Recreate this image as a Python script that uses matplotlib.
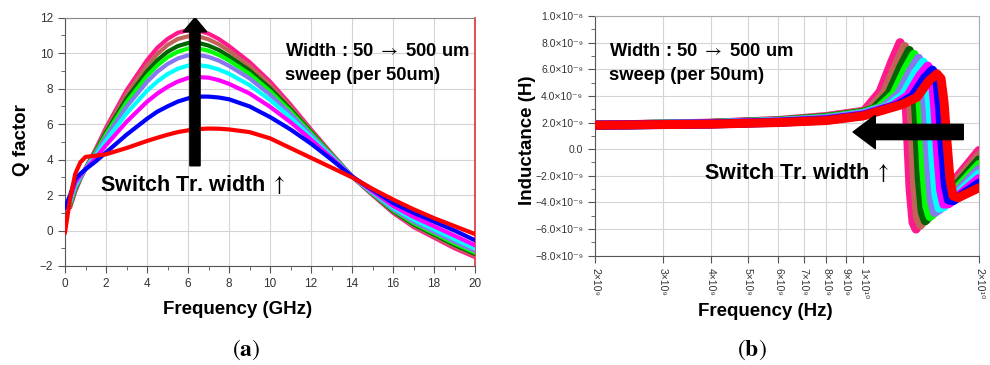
import numpy as np
import matplotlib.pyplot as plt
from matplotlib.patches import FancyArrow

plt.rcParams['font.family'] = ['Liberation Sans', 'DejaVu Sans']
plt.rcParams['mathtext.fontset'] = 'stix'

# colours, widest transistor first, 50um (red) drawn last
colors = ['#ff1a8c', '#c0645a', '#006400', '#00ff00', '#8878f0',
          '#00ffff', '#ff00ff', '#0000ff', '#ff0000']

# ---- (a) Q factor vs frequency (GHz) ----
freq_q = [0, 0.25, 0.5, 0.75, 1, 1.5, 2, 3, 4, 4.5, 5, 5.5, 6, 6.5, 7, 7.5, 8, 9, 10,
          11, 12, 13, 14, 15, 16, 17, 18, 19, 20]
q_pink = [1.4, 1.3, 2.2, 2.9, 3.5, 4.6, 5.8, 7.9, 9.6, 10.3, 10.8, 11.15, 11.3, 11.28, 11.1, 10.8, 10.4,
          9.5, 8.4, 7.1, 5.7, 4.35, 3.05, 2.0, 1.0, 0.2, -0.4, -1.0, -1.5]
q_brown = [1.39, 1.36, 2.26, 2.93, 3.5, 4.54, 5.67, 7.68, 9.3, 9.95, 10.46, 10.8, 10.95, 10.95, 10.78, 10.5, 10.13,
           9.28, 8.22, 6.97, 5.63, 4.32, 3.05, 2.03, 1.05, 0.27, -0.32, -0.91, -1.41]
q_dgreen = [1.38, 1.43, 2.33, 2.96, 3.49, 4.47, 5.53, 7.43, 8.97, 9.6, 10.08, 10.4, 10.57, 10.58, 10.43, 10.18, 9.83,
            9.03, 8.02, 6.83, 5.55, 4.28, 3.05, 2.06, 1.1, 0.35, -0.23, -0.81, -1.32]
q_lime = [1.37, 1.49, 2.39, 2.98, 3.49, 4.41, 5.42, 7.23, 8.71, 9.3, 9.77, 10.08, 10.26, 10.27, 10.14, 9.9, 9.59,
          8.83, 7.86, 6.72, 5.48, 4.26, 3.05, 2.08, 1.15, 0.42, -0.16, -0.73, -1.24]
q_purple = [1.36, 1.56, 2.46, 3.01, 3.48, 4.34, 5.28, 6.98, 8.38, 8.95, 9.39, 9.7, 9.88, 9.9, 9.79, 9.58, 9.29,
            8.58, 7.66, 6.58, 5.4, 4.22, 3.05, 2.11, 1.2, 0.5, -0.07, -0.63, -1.15]
q_cyan = [1.35, 1.66, 2.56, 3.06, 3.47, 4.24, 5.07, 6.6, 7.88, 8.4, 8.82, 9.12, 9.3, 9.33, 9.25, 9.08, 8.84,
          8.2, 7.36, 6.37, 5.28, 4.17, 3.05, 2.16, 1.29, 0.62, 0.07, -0.48, -1.01]
q_magenta = [1.33, 1.8, 2.7, 3.11, 3.46, 4.1, 4.81, 6.13, 7.26, 7.72, 8.1, 8.4, 8.6, 8.65, 8.62, 8.48, 8.27,
             7.73, 6.98, 6.11, 5.13, 4.1, 3.05, 2.21, 1.39, 0.77, 0.24, -0.29, -0.83]
q_blue = [1.3, 2.0, 2.9, 3.2, 3.45, 3.9, 4.4, 5.4, 6.3, 6.7, 7.0, 7.27, 7.45, 7.55, 7.55, 7.5, 7.4,
          7.0, 6.4, 5.7, 4.9, 4.0, 3.05, 2.3, 1.55, 1.0, 0.5, 0.0, -0.55]
q_red = [-0.1, 1.8, 3.2, 3.85, 4.15, 4.22, 4.3, 4.65, 5.05, 5.23, 5.4, 5.55, 5.65, 5.72, 5.75, 5.74, 5.7,
         5.55, 5.2, 4.65, 4.1, 3.55, 3.0, 2.35, 1.75, 1.2, 0.7, 0.25, -0.2]
q_curves = [q_pink, q_brown, q_dgreen, q_lime, q_purple, q_cyan, q_magenta, q_blue, q_red]

# ---- (b) inductance (nH) vs frequency (GHz), one frequency list per curve ----
f_pink = [2, 4, 6, 8, 10, 10.10, 11.05, 11.87, 12.46, 12.76, 12.99, 13.23, 13.47, 13.71, 14.13, 20]
f_brown = [2, 4, 6, 8, 10, 10.38, 11.36, 12.21, 12.81, 13.12, 13.35, 13.60, 13.84, 14.09, 14.52, 20]
f_dgreen = [2, 4, 6, 8, 10, 10.67, 11.68, 12.55, 13.17, 13.48, 13.73, 13.98, 14.23, 14.49, 14.93, 20]
f_lime = [2, 4, 6, 8, 10, 10.97, 12.01, 12.90, 13.54, 13.86, 14.12, 14.37, 14.63, 14.90, 15.35, 20]
f_purple = [2, 4, 6, 8, 10, 11.28, 12.34, 13.27, 13.92, 14.25, 14.51, 14.78, 15.04, 15.32, 15.78, 20]
f_cyan = [2, 4, 6, 8, 10, 11.60, 12.69, 13.64, 14.31, 14.65, 14.92, 15.19, 15.47, 15.75, 16.23, 20]
f_magenta = [2, 4, 6, 8, 10, 11.92, 13.05, 14.02, 14.71, 15.07, 15.34, 15.62, 15.90, 16.19, 16.69, 20]
f_blue = [2, 4, 6, 8, 10, 12.26, 13.41, 14.42, 15.12, 15.49, 15.77, 16.06, 16.35, 16.65, 17.15, 20]
f_red = [2, 4, 6, 8, 10, 12.61, 13.79, 14.82, 15.55, 15.93, 16.22, 16.51, 16.81, 17.11, 17.64, 20]

l_pink = [1.8, 1.95, 2.15, 2.45, 2.85, 2.95, 4.3, 6.6, 8.0, 6.8, 2.0, -3.0, -5.5, -6.0, -5.4, -0.1]
l_brown = [1.8, 1.94, 2.13, 2.41, 2.81, 3.0, 4.25, 6.42, 7.71, 6.61, 2.19, -2.56, -5.1, -5.69, -5.18, -0.45]
l_dgreen = [1.8, 1.93, 2.11, 2.38, 2.76, 3.05, 4.2, 6.24, 7.41, 6.43, 2.38, -2.13, -4.7, -5.38, -4.96, -0.8]
l_lime = [1.8, 1.92, 2.09, 2.34, 2.72, 3.1, 4.15, 6.06, 7.12, 6.24, 2.56, -1.69, -4.3, -5.06, -4.74, -1.15]
l_purple = [1.8, 1.92, 2.08, 2.3, 2.68, 3.15, 4.1, 5.88, 6.83, 6.05, 2.75, -1.25, -3.9, -4.75, -4.53, -1.5]
l_cyan = [1.8, 1.91, 2.06, 2.26, 2.63, 3.2, 4.05, 5.69, 6.53, 5.86, 2.94, -0.81, -3.5, -4.44, -4.31, -1.85]
l_magenta = [1.8, 1.9, 2.04, 2.23, 2.59, 3.25, 4.0, 5.51, 6.24, 5.68, 3.13, -0.38, -3.1, -4.13, -4.09, -2.2]
l_blue = [1.8, 1.89, 2.02, 2.19, 2.54, 3.3, 3.95, 5.33, 5.94, 5.49, 3.31, 0.06, -2.7, -3.81, -3.87, -2.55]
l_red = [1.8, 1.88, 2.0, 2.15, 2.5, 3.35, 3.9, 5.15, 5.65, 5.3, 3.5, 0.5, -2.3, -3.5, -3.65, -2.9]
f_curves = [f_pink, f_brown, f_dgreen, f_lime, f_purple, f_cyan, f_magenta, f_blue, f_red]
l_curves = [l_pink, l_brown, l_dgreen, l_lime, l_purple, l_cyan, l_magenta, l_blue, l_red]

xticks_b = [2e9, 3e9, 4e9, 5e9, 6e9, 7e9, 8e9, 9e9, 1e10, 2e10]
xlabels_b = ['2×10⁹', '3×10⁹', '4×10⁹', '5×10⁹', '6×10⁹', '7×10⁹', '8×10⁹', '9×10⁹',
             '1×10¹⁰', '2×10¹⁰']
yticks_b = [1e-8, 8e-9, 6e-9, 4e-9, 2e-9, 0, -2e-9, -4e-9, -6e-9, -8e-9]
ylabels_b = ['1.0×10⁻⁸', '8.0×10⁻⁹', '6.0×10⁻⁹', '4.0×10⁻⁹', '2.0×10⁻⁹', '0.0',
             '−2.0×10⁻⁹', '−4.0×10⁻⁹', '−6.0×10⁻⁹', '−8.0×10⁻⁹']

fig = plt.figure(figsize=(9.9, 3.65), dpi=100)
W, H = 990, 365
ax1 = fig.add_axes([65 / W, 1 - 266 / H, 410 / W, 248.3 / H])
ax2 = fig.add_axes([595 / W, 1 - 255.7 / H, 384 / W, 239.7 / H])

tick_col = '#333333'
grid_col = '#d4d4d4'

for c, q in zip(colors, q_curves):
    ax1.plot(freq_q, q, color=c, lw=3.0, solid_joinstyle='round', zorder=3)
ax1.set_xlim(0, 20)
ax1.set_ylim(-2, 12)
ax1.set_xticks(np.arange(0, 21, 2))
ax1.set_yticks(np.arange(-2, 13, 2))
ax1.set_xticks(np.arange(0, 21, 1), minor=True)
ax1.set_yticks(np.arange(-2, 13, 1), minor=True)
ax1.set_yticklabels(['−2', '0', '2', '4', '6', '8', '10', '12'])
ax1.grid(True, which='major', color=grid_col, lw=0.8)
ax1.spines['right'].set_color('#e03030')
ax1.spines['right'].set_linewidth(1.2)
ax1.spines['top'].set_color('#888888')

for c, f, l in zip(colors, f_curves, l_curves):
    ax2.plot(np.array(f) * 1e9, np.array(l) * 1e-9, color=c, lw=6.5,
             solid_joinstyle='round', solid_capstyle='round', zorder=3)
ax2.set_xscale('log')
ax2.set_xlim(2e9, 2e10)
ax2.set_ylim(-8e-9, 1e-8)
ax2.xaxis.set_minor_locator(plt.NullLocator())
ax2.set_xticks(xticks_b)
ax2.set_xticklabels(xlabels_b, rotation=-90, fontsize=7.5)
ax2.set_yticks(yticks_b)
ax2.set_yticklabels(ylabels_b, fontsize=7.5)
ax2.set_yticks(np.arange(-8e-9, 1.05e-8, 1e-9), minor=True)
ax2.grid(True, which='major', color=grid_col, lw=0.8)
ax2.spines['top'].set_color('#aaaaaa')
ax2.spines['right'].set_color('#aaaaaa')

for ax in (ax1, ax2):
    ax.tick_params(which='both', direction='out', colors='#555555', labelcolor=tick_col)
    ax.tick_params(which='major', length=5)
    ax.tick_params(which='minor', length=3)
    ax.spines['left'].set_color('#555555')
    ax.spines['bottom'].set_color('#555555')
    ax.set_axisbelow(True)
ax1.tick_params(labelsize=8.5)

# arrows
ax1.add_patch(FancyArrow(6.34, 3.65, 0, 8.35, width=0.5, head_width=1.15, head_length=0.8,
                         length_includes_head=True, color='black', zorder=5))
ax2.annotate('', xy=(9.4e9, 1.29e-9), xytext=(1.82e10, 1.29e-9),
             arrowprops=dict(arrowstyle='simple,head_length=0.8,head_width=1.2,tail_width=0.55',
                             color='black', shrinkA=0, shrinkB=0, mutation_scale=20), zorder=5)

# annotations
txt = dict(fontsize=13.2, fontweight='bold', color='black', va='center', ha='left')
fig.text(285 / W, 1 - 52 / H, r'Width : 50 $\rightarrow$ 500 um', **txt)
fig.text(285 / W, 1 - 76 / H, 'sweep (per 50um)', **txt)
fig.text(609 / W, 1 - 52 / H, r'Width : 50 $\rightarrow$ 500 um', **txt)
fig.text(609 / W, 1 - 75 / H, 'sweep (per 50um)', **txt)
fig.text(100 / W, 1 - 185 / H, r'Switch Tr. width $\uparrow$', fontsize=15.5, fontweight='bold',
         va='center', ha='left')
fig.text(704 / W, 1 - 173 / H, r'Switch Tr. width $\uparrow$', fontsize=15.5, fontweight='bold',
         va='center', ha='left')

lab = dict(fontsize=13.5, fontweight='bold', ha='center', va='center')
fig.text(238 / W, 1 - 310 / H, 'Frequency (GHz)', **lab)
fig.text(765 / W, 1 - 312 / H, 'Frequency (Hz)', **lab)
fig.text(21 / W, 1 - 140 / H, 'Q factor', rotation=90, **lab)
fig.text(527 / W, 1 - 140 / H, 'Inductance (H)', rotation=90, **lab)

fig.text(246 / W, 1 - 350 / H, r'$(\mathbf{a})$', fontsize=17, ha='center', va='center')
fig.text(752 / W, 1 - 350 / H, r'$(\mathbf{b})$', fontsize=17, ha='center', va='center')

plt.savefig('out.png', dpi=100)
